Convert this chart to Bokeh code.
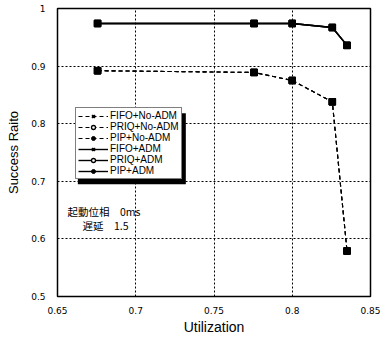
from bokeh.plotting import figure
from bokeh.models import Legend, LegendItem, Label, Range1d, FixedTicker, BoxAnnotation
from bokeh.embed import file_html
from bokeh.resources import INLINE

utilization = [0.6756, 0.7756, 0.80, 0.8256, 0.835]
fifo_noadm = [0.892, 0.889, 0.875, 0.838, 0.579]
priq_noadm = [0.892, 0.889, 0.875, 0.838, 0.579]
pip_noadm = [0.892, 0.889, 0.875, 0.838, 0.579]
fifo_adm = [0.974, 0.974, 0.974, 0.967, 0.936]
priq_adm = [0.974, 0.974, 0.974, 0.967, 0.936]
pip_adm = [0.974, 0.974, 0.974, 0.967, 0.936]
x_ticks = [0.65, 0.7, 0.75, 0.8, 0.85]
y_ticks = [0.5, 0.6, 0.7, 0.8, 0.9, 1.0]

p = figure(width=385, height=337, output_backend="svg", toolbar_location=None,
           x_range=Range1d(0.65, 0.85), y_range=Range1d(0.5, 1.0),
           min_border_left=57, min_border_right=15, min_border_top=8, min_border_bottom=38)
p.outline_line_color = "black"
p.outline_line_width = 1.5
p.background_fill_color = "white"
p.border_fill_color = "white"

for ax in (p.xaxis, p.yaxis):
    ax.axis_line_color = None
    ax.major_tick_line_color = None
    ax.minor_tick_line_color = None
    ax.major_label_text_font = "DejaVu Sans"
    ax.major_label_text_font_size = "9px"
    ax.major_label_text_color = "black"
    ax.axis_label_text_font = "Liberation Sans"
    ax.axis_label_text_font_style = "normal"
    ax.axis_label_text_color = "black"

p.xaxis.ticker = FixedTicker(ticks=x_ticks)
p.yaxis.ticker = FixedTicker(ticks=y_ticks)
p.xaxis.major_label_overrides = {0.65: "0.65", 0.7: "0.7", 0.75: "0.75", 0.8: "0.8", 0.85: "0.85"}
p.yaxis.major_label_overrides = {0.5: "0.5", 0.6: "0.6", 0.7: "0.7", 0.8: "0.8", 0.9: "0.9", 1.0: "1"}
p.xaxis.axis_label = "Utilization"
p.yaxis.axis_label = "Success Raito"
p.xaxis.axis_label_text_font_size = "14px"
p.yaxis.axis_label_text_font_size = "13px"
p.xaxis.major_label_standoff = 4
p.yaxis.major_label_standoff = 6
p.xaxis.axis_label_standoff = 2
p.yaxis.axis_label_standoff = 7

for g in (p.xgrid, p.ygrid):
    g.grid_line_color = "black"
    g.grid_line_dash = "2 2"
    g.grid_line_width = 1

# legend shadow (data units)
p.add_layout(BoxAnnotation(left=0.6630, right=0.7320, top=0.8180, bottom=0.6950,
                           fill_color="black", fill_alpha=1, line_color=None))

items = []
series = [
    ("FIFO+No-ADM", fifo_noadm, "4 3", "x", 1.1),
    ("PRIQ+No-ADM", priq_noadm, "4 3", "circle", 1.1),
    ("PIP+No-ADM", pip_noadm, "4 3", "dot", 1.1),
    ("FIFO+ADM", fifo_adm, "solid", "x", 1.4),
    ("PRIQ+ADM", priq_adm, "solid", "circle", 1.4),
    ("PIP+ADM", pip_adm, "solid", "dot", 1.4),
]
for name, ys, dash, marker, lw in series:
    ln = p.line(utilization, ys, line_color="black", line_width=lw, line_dash=dash)
    if marker == "x":
        lg = p.scatter(utilization, ys, marker="x", size=5, line_color="black", line_width=2)
    elif marker == "circle":
        lg = p.scatter(utilization, ys, marker="circle", size=4.5, fill_color="white", line_color="black", line_width=1.3)
    else:
        lg = p.scatter(utilization, ys, marker="circle", size=4.5, fill_color="black", line_color="black")
    p.scatter(utilization, ys, marker="square", size=6.5, fill_color="black", line_color="black")
    items.append(LegendItem(label=name, renderers=[ln, lg]))

legend = Legend(items=items, location=(18, 117), orientation="vertical")
legend.label_text_font = "Liberation Sans"
legend.label_text_font_size = "10px"
legend.label_text_color = "black"
legend.label_height = 10
legend.glyph_height = 10
legend.glyph_width = 30
legend.label_standoff = 2
legend.spacing = 0
legend.padding = 2
legend.margin = 0
legend.border_line_color = "black"
legend.border_line_width = 1
legend.background_fill_color = "white"
legend.background_fill_alpha = 1
p.add_layout(legend, "center")

p.add_layout(Label(x=0.6564, y=0.634, text="起動位相　0ms", text_font="Noto Sans CJK JP",
                   text_font_size="10.5px", text_color="black"))
p.add_layout(Label(x=0.666, y=0.610, text="遅延　1.5", text_font="Noto Sans CJK JP",
                   text_font_size="10.5px", text_color="black"))

open("out.html", "w").write(file_html(p, INLINE))
